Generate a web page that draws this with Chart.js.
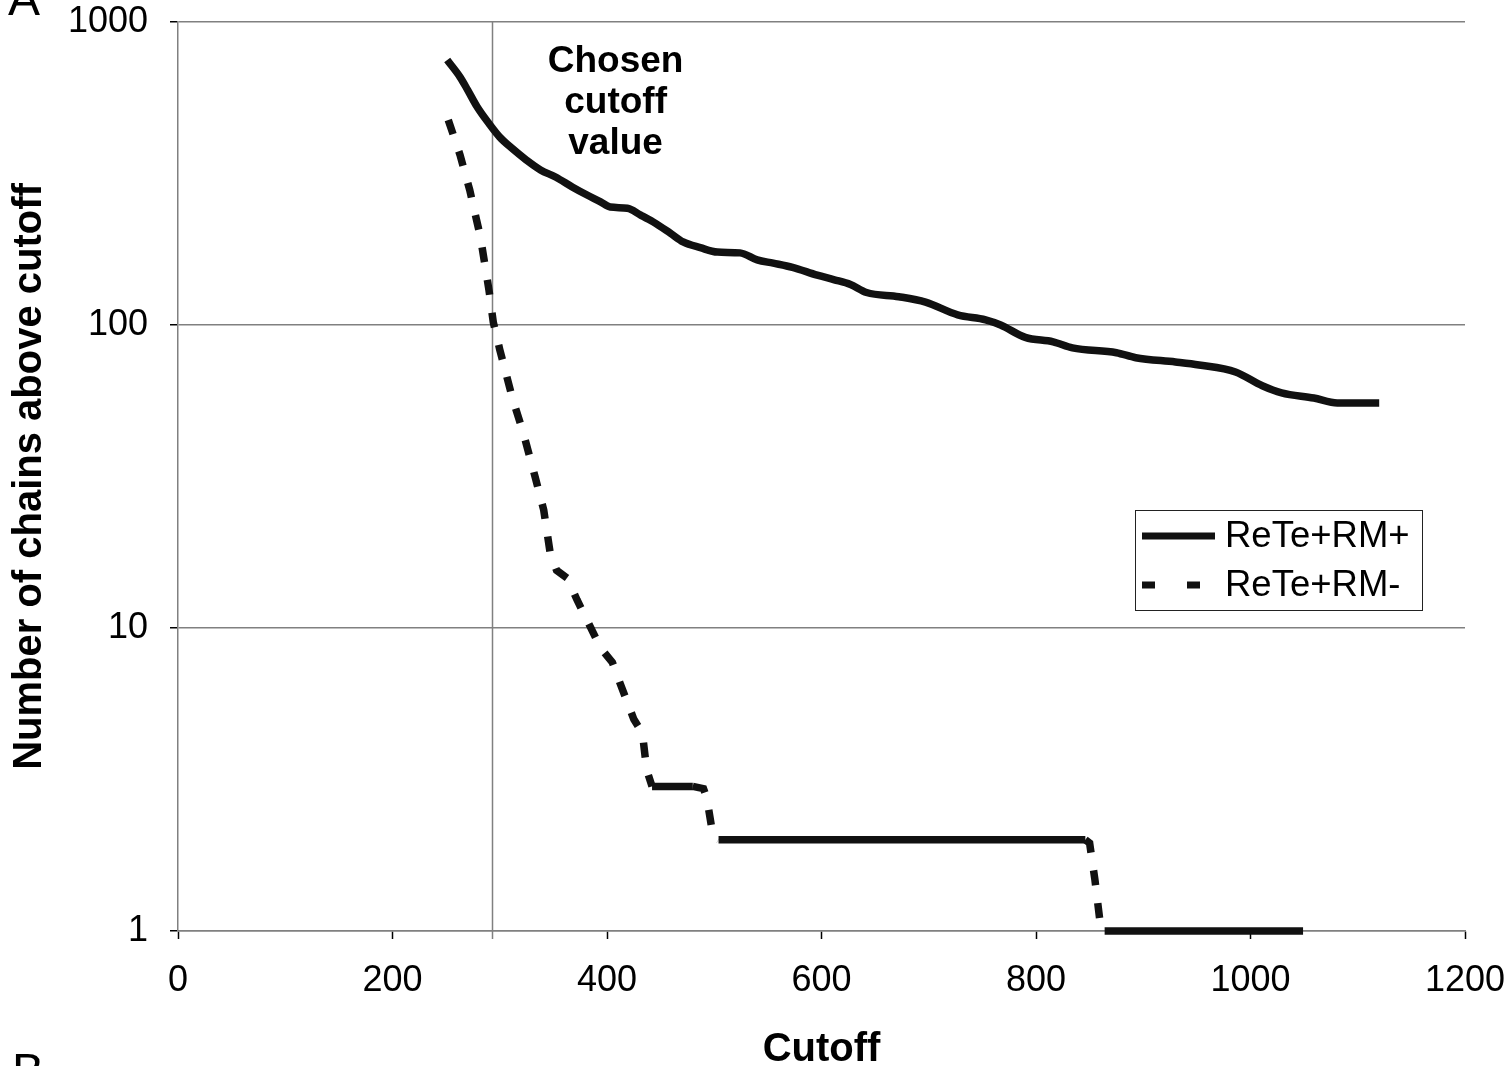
<!DOCTYPE html>
<html><head><meta charset="utf-8">
<script src="https://cdn.jsdelivr.net/npm/chart.js@4/dist/chart.umd.min.js"></script>
<style>html,body{margin:0;padding:0;background:#fff;} #wrap{position:relative;width:1508px;height:1066px;overflow:hidden}</style>
</head><body><div id="wrap"><canvas id="c" width="1508" height="1066"></canvas></div>
<script>
const seriesNames = ['ReTe+RM+', 'ReTe+RM-'];
const solidX = [251,263,270,279,291,300,311,325,338,352,368,381,394,403,419,431,443,459,471,487,503,524,540,555,573,596,612,627,642,672,697,727,753,767,790,816,834,875,893,930,952,986,1011,1029,1059,1081,1120];
const solidY = [749,658,597,524,457,417,384,350,325,308,285,269,255,245,243,231,219,201,188,180,174,173,164,160,155,146,141,136,128,124,119,108,104,100,91,88,84,81,78,75.5,73.8,70,63,59.7,57.4,55.3,55.3];
const dashX = [252,263,272,282,290,294,300,312,322,333,341,347,353,363,372,382,394,405,412,425,433,437,442,480,490,493,499,504,846,850,855,860,864,1049];
const dashY = [475,364,279,195,130,102,83,57,44,31.5,24.5,17.7,15.5,14.6,12.4,10.5,8.6,7.7,6.6,5,4.5,3.4,3,3,2.95,2.75,2.05,2,2,1.95,1.47,1.05,1,1];
const xTickValues = [0,200,400,600,800,1000,1200];
const yTickValues = [1,10,100,1000];
const cutoffValue = 293;
const cutoffLabel = ['Chosen','cutoff','value'];
const xTitle = 'Cutoff';
const yTitle = 'Number of chains above cutoff';
const panelLetters = ['A','B'];

const FONT = '"Liberation Sans", Arial, sans-serif';

const extrasPlugin = {
  id: 'extras',
  beforeDatasetsDraw(chart) {
    const {ctx, chartArea, scales} = chart;
    const x = Math.round(scales.x.getPixelForValue(cutoffValue)) + 0.5;
    ctx.save();
    ctx.strokeStyle = '#808080';
    ctx.lineWidth = 1.5;
    ctx.beginPath();
    ctx.moveTo(x, chartArea.top);
    ctx.lineTo(x, chartArea.bottom + 8);
    ctx.stroke();
    ctx.restore();
  },
  afterDraw(chart) {
    const {ctx, chartArea, scales} = chart;
    ctx.save();
    // annotation
    ctx.fillStyle = '#000';
    ctx.font = 'bold 37px ' + FONT;
    ctx.textAlign = 'center';
    ctx.textBaseline = 'middle';
    const ax = scales.x.getPixelForValue(408);
    cutoffLabel.forEach((t, i) => ctx.fillText(t, ax, chartArea.top + 40 + i * 41));
    // legend
    const lx = chartArea.right - 330, ly = chartArea.top + 488, lw = 287, lh = 100;
    ctx.fillStyle = '#fff';
    ctx.fillRect(lx, ly, lw, lh);
    ctx.strokeStyle = '#222';
    ctx.lineWidth = 1;
    ctx.strokeRect(lx + 0.5, ly + 0.5, lw, lh);
    const ds = chart.data.datasets;
    const rows = [ly + 26, ly + 75];
    ds.forEach((d, i) => {
      ctx.strokeStyle = d.borderColor;
      ctx.lineWidth = 7;
      ctx.setLineDash(i === 0 ? [] : [13, 32]);
      ctx.beginPath();
      ctx.moveTo(lx + 7, rows[i]);
      ctx.lineTo(lx + 80, rows[i]);
      ctx.stroke();
      ctx.setLineDash([]);
      ctx.fillStyle = '#000';
      ctx.font = '36.5px ' + FONT;
      ctx.textAlign = 'left';
      ctx.textBaseline = 'middle';
      ctx.fillText(d.label, lx + 90, rows[i] + 1);
    });
    // panel letters
    ctx.font = '48px ' + FONT;
    ctx.textAlign = 'left';
    ctx.textBaseline = 'alphabetic';
    ctx.fillText(panelLetters[0], 8, 15);
    ctx.fillText(panelLetters[1], 12, 1087);
    ctx.restore();
  }
};

const toPts = (xs, ys) => xs.map((x, i) => ({x, y: ys[i]}));

new Chart(document.getElementById('c'), {
  type: 'line',
  data: {
    datasets: [
      {
        label: seriesNames[0],
        data: toPts(solidX, solidY),
        borderColor: '#111',
        borderWidth: 7.5,
        pointRadius: 0,
        cubicInterpolationMode: 'monotone',
        fill: false,
        clip: 12
      },
      {
        label: seriesNames[1],
        data: toPts(dashX, dashY),
        borderColor: '#111',
        borderWidth: 7.5,
        pointRadius: 0,
        tension: 0,
        fill: false,
        clip: 12,
        segment: {
          borderDash: c => (c.p0.parsed.y === c.p1.parsed.y ? [] : [15, 18])
        }
      }
    ]
  },
  options: {
    responsive: false,
    animation: false,
    devicePixelRatio: 1,
    layout: {padding: {top: 22, right: 43, left: 0, bottom: 0}},
    plugins: {legend: {display: false}, tooltip: {enabled: false}},
    scales: {
      x: {
        type: 'linear',
        min: 0, max: 1200,
        afterBuildTicks: s => { s.ticks = xTickValues.map(v => ({value: v})); },
        afterFit: s => { s.height = 135; s.paddingLeft = 0; s.paddingRight = 0; s.paddingTop = 0; s.paddingBottom = 0; },
        ticks: {color: '#000', font: {family: FONT, size: 36}, padding: 20, maxRotation: 0, callback: v => String(v)},
        grid: {drawOnChartArea: false, drawTicks: true, tickLength: 8, tickColor: '#000', tickWidth: 1.5},
        border: {color: '#808080', width: 1.5},
        title: {display: true, text: xTitle, color: '#000', font: {family: FONT, size: 40, weight: 'bold', lineHeight: 0.8}, padding: {top: 0, bottom: 0}}
      },
      y: {
        type: 'logarithmic',
        min: 1, max: 1000,
        afterBuildTicks: s => { s.ticks = yTickValues.map(v => ({value: v})); },
        afterFit: s => { s.width = 178; s.paddingTop = 0; s.paddingBottom = 0; s.paddingLeft = 0; s.paddingRight = 0; },
        ticks: {color: '#000', font: {family: FONT, size: 36}, padding: 22, callback: v => String(v)},
        grid: {color: '#808080', lineWidth: 1.5, drawTicks: true, tickLength: 8, tickColor: '#000', tickWidth: 1.5},
        border: {color: '#808080', width: 1.5},
        title: {display: true, text: yTitle, color: '#000', font: {family: FONT, size: 40, weight: 'bold', lineHeight: 1}, padding: {top: 10, bottom: 0}}
      }
    }
  },
  plugins: [extrasPlugin]
});
</script></body></html>
